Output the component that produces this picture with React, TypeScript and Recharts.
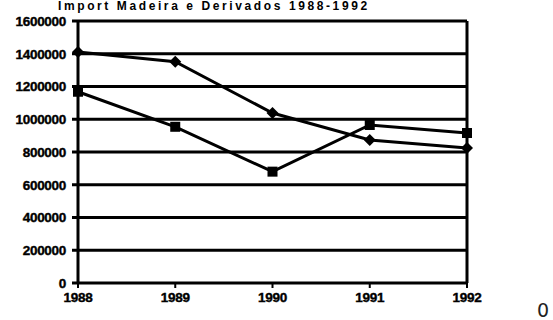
import React from "react";
import { LineChart, Line, XAxis, YAxis, CartesianGrid, ReferenceLine } from "recharts";

const years = ["1988", "1989", "1990", "1991", "1992"];
const diamondSeries = [1410000, 1351000, 1038000, 873000, 824000];
const squareSeries = [1168000, 954000, 680000, 965000, 916000];
const yTicks = [0, 200000, 400000, 600000, 800000, 1000000, 1200000, 1400000, 1600000];
const titleText = "Import Madeira e Derivados 1988-1992";

const data = years.map((y, i) => ({ year: y, a: diamondSeries[i], b: squareSeries[i] }));

const Diamond = (props: any) => {
  const { cx, cy } = props;
  if (cx == null || cy == null) return null;
  const r = 6;
  return <polygon points={`${cx},${cy - r} ${cx + r},${cy} ${cx},${cy + r} ${cx - r},${cy}`} fill="#000" />;
};

const Square = (props: any) => {
  const { cx, cy } = props;
  if (cx == null || cy == null) return null;
  const r = 5;
  return <rect x={cx - r} y={cy - r} width={2 * r} height={2 * r} fill="#000" />;
};

const tickStyle = {
  fill: "#000",
  fontSize: 13.5,
  fontWeight: 700,
  fontFamily: "Liberation Sans, Arial, sans-serif",
  letterSpacing: -0.3,
  stroke: "#000",
  strokeWidth: 0.4,
};

export default function App() {
  return (
    <div style={{ position: "absolute", left: 0, top: 0, width: 553, height: 320, background: "#fff", overflow: "hidden" }}>
      <div
        style={{
          position: "absolute",
          left: 58,
          top: 0,
          fontFamily: "Liberation Sans, Arial, sans-serif",
          fontWeight: 700,
          fontSize: 12,
          lineHeight: "12px",
          letterSpacing: 2.6,
          color: "#000",
          whiteSpace: "nowrap",
        }}
      >
        {titleText}
      </div>
      <LineChart width={553} height={320} data={data} margin={{ top: 21, right: 86, bottom: 0, left: 0 }}>
        <CartesianGrid vertical={false} stroke="#000" strokeWidth={3} />
        <XAxis
          dataKey="year"
          height={37}
          stroke="#000"
          strokeWidth={2}
          tickSize={5}
          tickMargin={4}
          tick={tickStyle}
        />
        <YAxis
          width={78}
          domain={[0, 1600000]}
          ticks={yTicks}
          interval={0}
          stroke="#000"
          strokeWidth={3}
          tickSize={6}
          tickMargin={6}
          tick={tickStyle}
        />
        <ReferenceLine x="1992" stroke="#000" strokeWidth={3} />
        <Line
          dataKey="a"
          stroke="#000"
          strokeWidth={3}
          dot={<Diamond />}
          isAnimationActive={false}
        />
        <Line
          dataKey="b"
          stroke="#000"
          strokeWidth={3}
          dot={<Square />}
          isAnimationActive={false}
        />
      </LineChart>
      <div
        style={{
          position: "absolute",
          left: 537,
          top: 299,
          fontFamily: "DejaVu Sans, sans-serif",
          fontSize: 19,
          color: "#222",
        }}
      >
        0
      </div>
    </div>
  );
}
